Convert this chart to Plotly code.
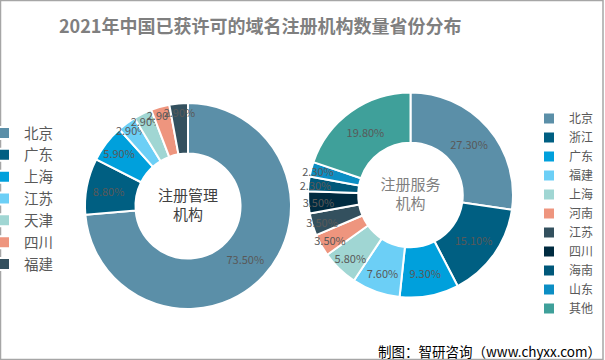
import plotly.graph_objects as go

title_text = "2021年中国已获许可的域名注册机构数量省份分布"
source_text = "制图：智研咨询（www.chyxx.com）"

left_labels = ["北京", "广东", "上海", "江苏", "天津", "四川", "福建"]
left_values = [73.5, 8.8, 5.9, 2.9, 2.9, 2.9, 2.9]
left_center = "注册管理<br>机构"

right_labels = ["北京", "浙江", "广东", "福建", "上海", "河南", "江苏", "四川", "海南", "山东", "其他"]
right_values = [27.3, 15.1, 9.3, 7.6, 5.8, 3.5, 3.5, 3.5, 2.3, 2.3, 19.8]
right_center = "注册服务<br>机构"

left_colors = ["#5B8FA8", "#005F82", "#00A0DC", "#6CCFF6", "#A0D6D3", "#EE957E", "#33505E"]
right_colors = ["#5B8FA8", "#005F82", "#00A0DC", "#6CCFF6", "#A0D6D3", "#EE957E",
                "#33505E", "#002B40", "#00587A", "#0C8EC4", "#3FA09A"]

FONT = "Noto Sans CJK SC"
W, H = 605, 360

# pie legends are merged by label across traces; a trailing zero-width space keeps the two legends separate
right_keys = [l + "\u200b" for l in right_labels]

fig = go.Figure()
fig.add_trace(go.Pie(
    labels=left_labels, values=left_values, sort=False, direction="clockwise",
    hole=0.51, marker=dict(colors=left_colors, line=dict(color="white", width=2)),
    texttemplate="%{value:.2f}%", textposition="inside", insidetextorientation="horizontal",
    textfont=dict(family=FONT, size=11, color="#595959"),
    title=dict(text=left_center, position="middle center", font=dict(family=FONT, size=15, color="#404040")),
    domain=dict(x=[85 / W, 291 / W], y=[1 - 309 / H, 1 - 103 / H]),
    legend="legend", hoverinfo="none", showlegend=True,
))
fig.add_trace(go.Pie(
    labels=right_keys, values=right_values, sort=False, direction="clockwise",
    hole=0.51, marker=dict(colors=right_colors, line=dict(color="white", width=2)),
    texttemplate="%{value:.2f}%", textposition="inside", insidetextorientation="horizontal",
    textfont=dict(family=FONT, size=11, color="#595959"),
    title=dict(text=right_center, position="middle center", font=dict(family=FONT, size=15, color="#7F7F7F")),
    domain=dict(x=[308 / W, 513 / W], y=[1 - 297.5 / H, 1 - 92.5 / H]),
    legend="legend2", hoverinfo="none", showlegend=True,
))

fig.update_layout(
    width=W, height=H, margin=dict(l=0, r=0, t=0, b=0, autoexpand=False),
    paper_bgcolor="white", plot_bgcolor="white",
    uniformtext=dict(minsize=11, mode="show"),
    legend=dict(x=-16 / W, y=1 - 117 / H, xanchor="left", yanchor="top",
                font=dict(family=FONT, size=14.5, color="#595959"), bgcolor="rgba(0,0,0,0)",
                itemclick=False),
    legend2=dict(x=529 / W, y=1 - 104 / H, xanchor="left", yanchor="top",
                 font=dict(family=FONT, size=12, color="#595959"), bgcolor="rgba(0,0,0,0)",
                 itemclick=False),
    annotations=[
        dict(text="<b>" + title_text + "</b>", x=260 / W, y=1 - 25 / H, xref="paper", yref="paper",
             showarrow=False, xanchor="center", yanchor="middle",
             font=dict(family=FONT, size=18, color="#7F7F7F")),
        dict(text=source_text, x=603 / W, y=1 - 351 / H, xref="paper", yref="paper",
             showarrow=False, xanchor="right", yanchor="middle",
             font=dict(family=FONT, size=13.5, color="#000000")),
    ],
    shapes=[dict(type="rect", xref="paper", yref="paper", x0=0.5 / W, y0=0.5 / H, x1=1 - 2 / W, y1=1 - 0.5 / H,
                 line=dict(color="#A6A6A6", width=1.5))],
)

fig.write_html("out.html", config={"displayModeBar": False},
               post_script="document.body.style.margin='0';document.body.style.overflow='hidden';")
